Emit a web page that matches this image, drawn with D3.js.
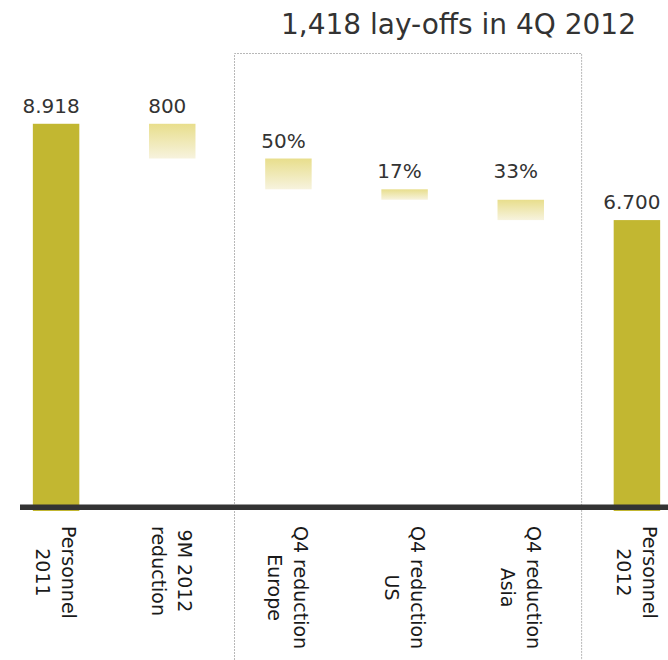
<!DOCTYPE html>
<html>
<head>
<meta charset="utf-8">
<script src="https://cdn.jsdelivr.net/npm/d3@7"></script>
<style>
  html, body { margin: 0; padding: 0; background: #fff; }
  svg { display: block; }
  text { font-family: "DejaVu Sans", Verdana, sans-serif; }
</style>
</head>
<body>
<svg id="chart" width="668" height="660"></svg>
<script>
// ---- data ----
const categories = [
  ["Personnel", "2011"],
  ["9M 2012", "reduction"],
  ["Q4 reduction", "Europe"],
  ["Q4 reduction", "US"],
  ["Q4 reduction", "Asia"],
  ["Personnel", "2012"]
];
const steps = [8918, -800, -709, -241, -468, 6700];   // totals positive, reductions negative
const kinds = ["total", "step", "step", "step", "step", "total"];
const valueLabels = ["8.918", "800", "50%", "17%", "33%", "6.700"];
const titleText = "1,418 lay-offs in 4Q 2012";

// ---- layout ----
const W = 668, H = 660;
const svg = d3.select("#chart");

const keys = categories.map(c => c.join(" "));
const x = d3.scaleBand().domain(keys).range([-2, 695]).paddingInner(0.6).paddingOuter(0.3);
const y = d3.scaleLinear().domain([0, 10000]).range([511, 76.8]);

// build waterfall
let running = 0;
const bars = steps.map((v, i) => {
  let top, bottom;
  if (kinds[i] === "total") { top = v; bottom = 0; running = v; }
  else { top = running; bottom = running + v; running = bottom; }
  return { key: keys[i], lines: categories[i], kind: kinds[i], top, bottom, label: valueLabels[i] };
});

const defs = svg.append("defs");
const grad = defs.append("linearGradient").attr("id", "stepGrad")
  .attr("x1", 0).attr("y1", 0).attr("x2", 0).attr("y2", 1);
grad.append("stop").attr("offset", "0%").attr("stop-color", "#e8de8c");
grad.append("stop").attr("offset", "100%").attr("stop-color", "#f7f3de");

// dotted Q4 group box
const step = x.step(), bw = x.bandwidth(), gap = step - bw;
const gx0 = x(keys[2]) - gap * 0.44;
const gx1 = x(keys[4]) + bw + gap * 0.54;
const gy0 = 53.5;
svg.append("path")
  .attr("d", `M${gx0},${H} V${gy0} H${gx1} V${H}`)
  .attr("fill", "none").attr("stroke", "#b8b8b8").attr("stroke-width", 1)
  .attr("stroke-dasharray", "2,1");

// bars
svg.selectAll("rect.bar").data(bars).join("rect")
  .attr("class", "bar")
  .attr("x", d => x(d.key))
  .attr("width", bw)
  .attr("y", d => y(d.top))
  .attr("height", d => y(d.bottom) - y(d.top))
  .attr("fill", d => d.kind === "total" ? "#c2b731" : "url(#stepGrad)");

// baseline axis
svg.append("line")
  .attr("x1", 20).attr("x2", W)
  .attr("y1", y(0) - 3.7).attr("y2", y(0) - 3.7)
  .attr("stroke", "#333").attr("stroke-width", 5.4);

// value labels
const labelY = bars.map(d => y(d.top) - 11);
// US / Asia labels share a row
labelY[4] = Math.min(labelY[4], labelY[3]);
svg.selectAll("text.val").data(bars).join("text")
  .attr("class", "val")
  .attr("x", d => x(d.key) + bw / 2 - 5)
  .attr("y", (d, i) => labelY[i])
  .attr("text-anchor", "middle")
  .attr("font-size", 20)
  .attr("fill", "#333")
  .text(d => d.label);

// category labels (rotated)
const lineH = 26;
const catG = svg.selectAll("g.cat").data(bars).join("g")
  .attr("class", "cat")
  .attr("transform", d => `translate(${x(d.key) + bw / 2},526) rotate(90)`);
catG.each(function(d) {
  const g = d3.select(this);
  const ts = d.lines.map((ln, j) => g.append("text")
    .attr("y", (j - (d.lines.length - 1) / 2) * lineH)
    .attr("dominant-baseline", "central")
    .attr("text-anchor", "middle")
    .attr("font-size", 19)
    .attr("fill", "#1a1a1a")
    .text(ln));
  const maxLen = d3.max(ts, t => t.node().getComputedTextLength());
  ts.forEach(t => t.attr("x", maxLen / 2));
});

// title
svg.append("text")
  .attr("x", 636).attr("y", 34)
  .attr("text-anchor", "end")
  .attr("font-size", 28)
  .attr("fill", "#333")
  .text(titleText);
</script>
</body>
</html>
